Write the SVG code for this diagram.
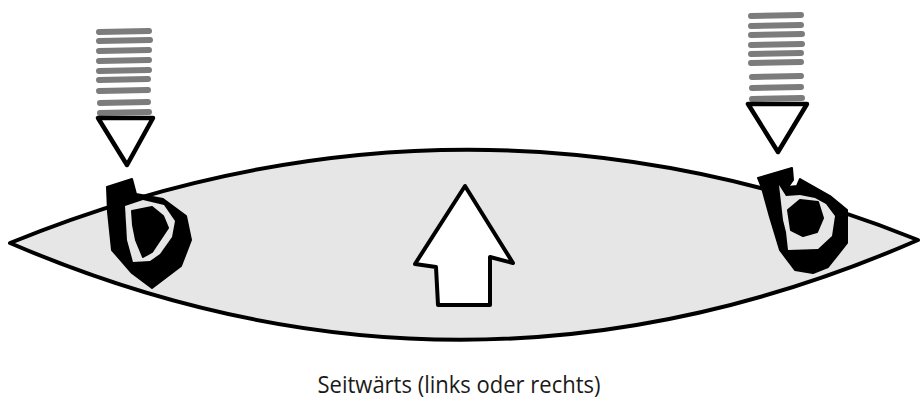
<svg xmlns="http://www.w3.org/2000/svg" width="923" height="403" viewBox="0 0 923 403">
  <style>
    .lens { fill: #e6e6e6; stroke: #000; stroke-width: 4; stroke-linejoin: round; }
    .stripe { stroke: #7c7c7c; stroke-width: 6; stroke-linecap: round; fill: none; }
    .tri { fill: #fff; stroke: #000; stroke-width: 4.5; stroke-linejoin: round; }
    .ink { fill: #000; stroke: #000; stroke-width: 2; stroke-linejoin: round; }
    .gap { fill: #e6e6e6; stroke: none; }
    .arrow { fill: #fff; stroke: #000; stroke-width: 4; stroke-linejoin: round; }
    .label { font-family: "Open Sans", "Liberation Sans", sans-serif; font-size: 23px; fill: #1a1a1a; }
  </style>

  <!-- lens-shaped body -->
  <g id="body">
    <path class="lens" d="M 10 243 Q 464 58 918 240 Q 464 438 10 243 Z"/>
  </g>

  <!-- left pressure: stripes above a downward triangle -->
  <g id="press-left">
    <g class="stripe">
      <line x1="99" y1="32" x2="149" y2="31"/>
      <line x1="99" y1="41" x2="150" y2="40"/>
      <line x1="99" y1="51" x2="149" y2="50"/>
      <line x1="99" y1="61" x2="149" y2="60"/>
      <line x1="99" y1="71" x2="149" y2="70"/>
      <line x1="99" y1="80" x2="148" y2="79"/>
      <line x1="99" y1="91" x2="148" y2="90"/>
      <line x1="100" y1="103" x2="148" y2="102"/>
      <line x1="100" y1="113" x2="149" y2="112"/>
    </g>
    <path class="tri" d="M 98 118 L 153 118 L 127 165 Z"/>
  </g>

  <!-- right pressure: stripes above a downward triangle -->
  <g id="press-right">
    <g class="stripe">
      <line x1="751" y1="16" x2="801" y2="15"/>
      <line x1="751" y1="26" x2="801" y2="25"/>
      <line x1="751" y1="35" x2="802" y2="34"/>
      <line x1="751" y1="45" x2="802" y2="44"/>
      <line x1="751" y1="54" x2="801" y2="53"/>
      <line x1="751" y1="63" x2="801" y2="62"/>
      <line x1="752" y1="77" x2="801" y2="76"/>
      <line x1="752" y1="88" x2="801" y2="87"/>
      <line x1="752" y1="99" x2="802" y2="98"/>
    </g>
    <path class="tri" d="M 748 104 L 807 104 L 778 152 Z"/>
  </g>

  <!-- left coil: solid outer ring, light gap, solid core -->
  <g id="coil-left">
    <path class="ink" d="M 107 187 L 132 179 L 136 194 L 163 199 L 186 216 L 191 240 L 181 266 L 152 288 L 132 273 L 112 250 L 108 212 Z"/>
    <path class="gap" d="M 125 206 L 143 200 L 164 205 L 175 221 L 172 237 L 160 254 L 150 261 L 133 262 L 127 240 Z"/>
    <path class="ink" d="M 132 211 L 152 207 L 163 216 L 168 228 L 152 252 L 143 257 L 136 240 L 133 225 Z"/>
  </g>

  <!-- right coil: solid outer ring, light gap, solid core -->
  <g id="coil-right">
    <path class="ink" d="M 758 178 L 792 168 L 793 180 L 788 187 L 797 186 L 800 179 L 830 196 L 847 210 L 847 243 L 828 267 L 813 273 L 795 270 L 780 250 L 770 217 L 762 188 Z"/>
    <path class="gap" d="M 779 185 L 786 196 L 800 195 L 815 198 L 826 204 L 835 216 L 832 236 L 818 249 L 788 250 L 786 232 L 783 220 Z"/>
    <path class="ink" d="M 788 210 L 800 200 L 818 202 L 823 218 L 817 232 L 803 236 L 791 230 Z"/>
  </g>

  <!-- central upward arrow -->
  <g id="arrow-up">
    <path class="arrow" d="M 465 186 L 513 263 L 490 257 L 490 305 L 438 305 L 436 267 L 415 264 Z"/>
  </g>

  <!-- caption -->
  <g id="caption">
    <text class="label" x="459" y="393" text-anchor="middle" textLength="283" lengthAdjust="spacingAndGlyphs">Seitwärts (links oder rechts)</text>
  </g>
</svg>
